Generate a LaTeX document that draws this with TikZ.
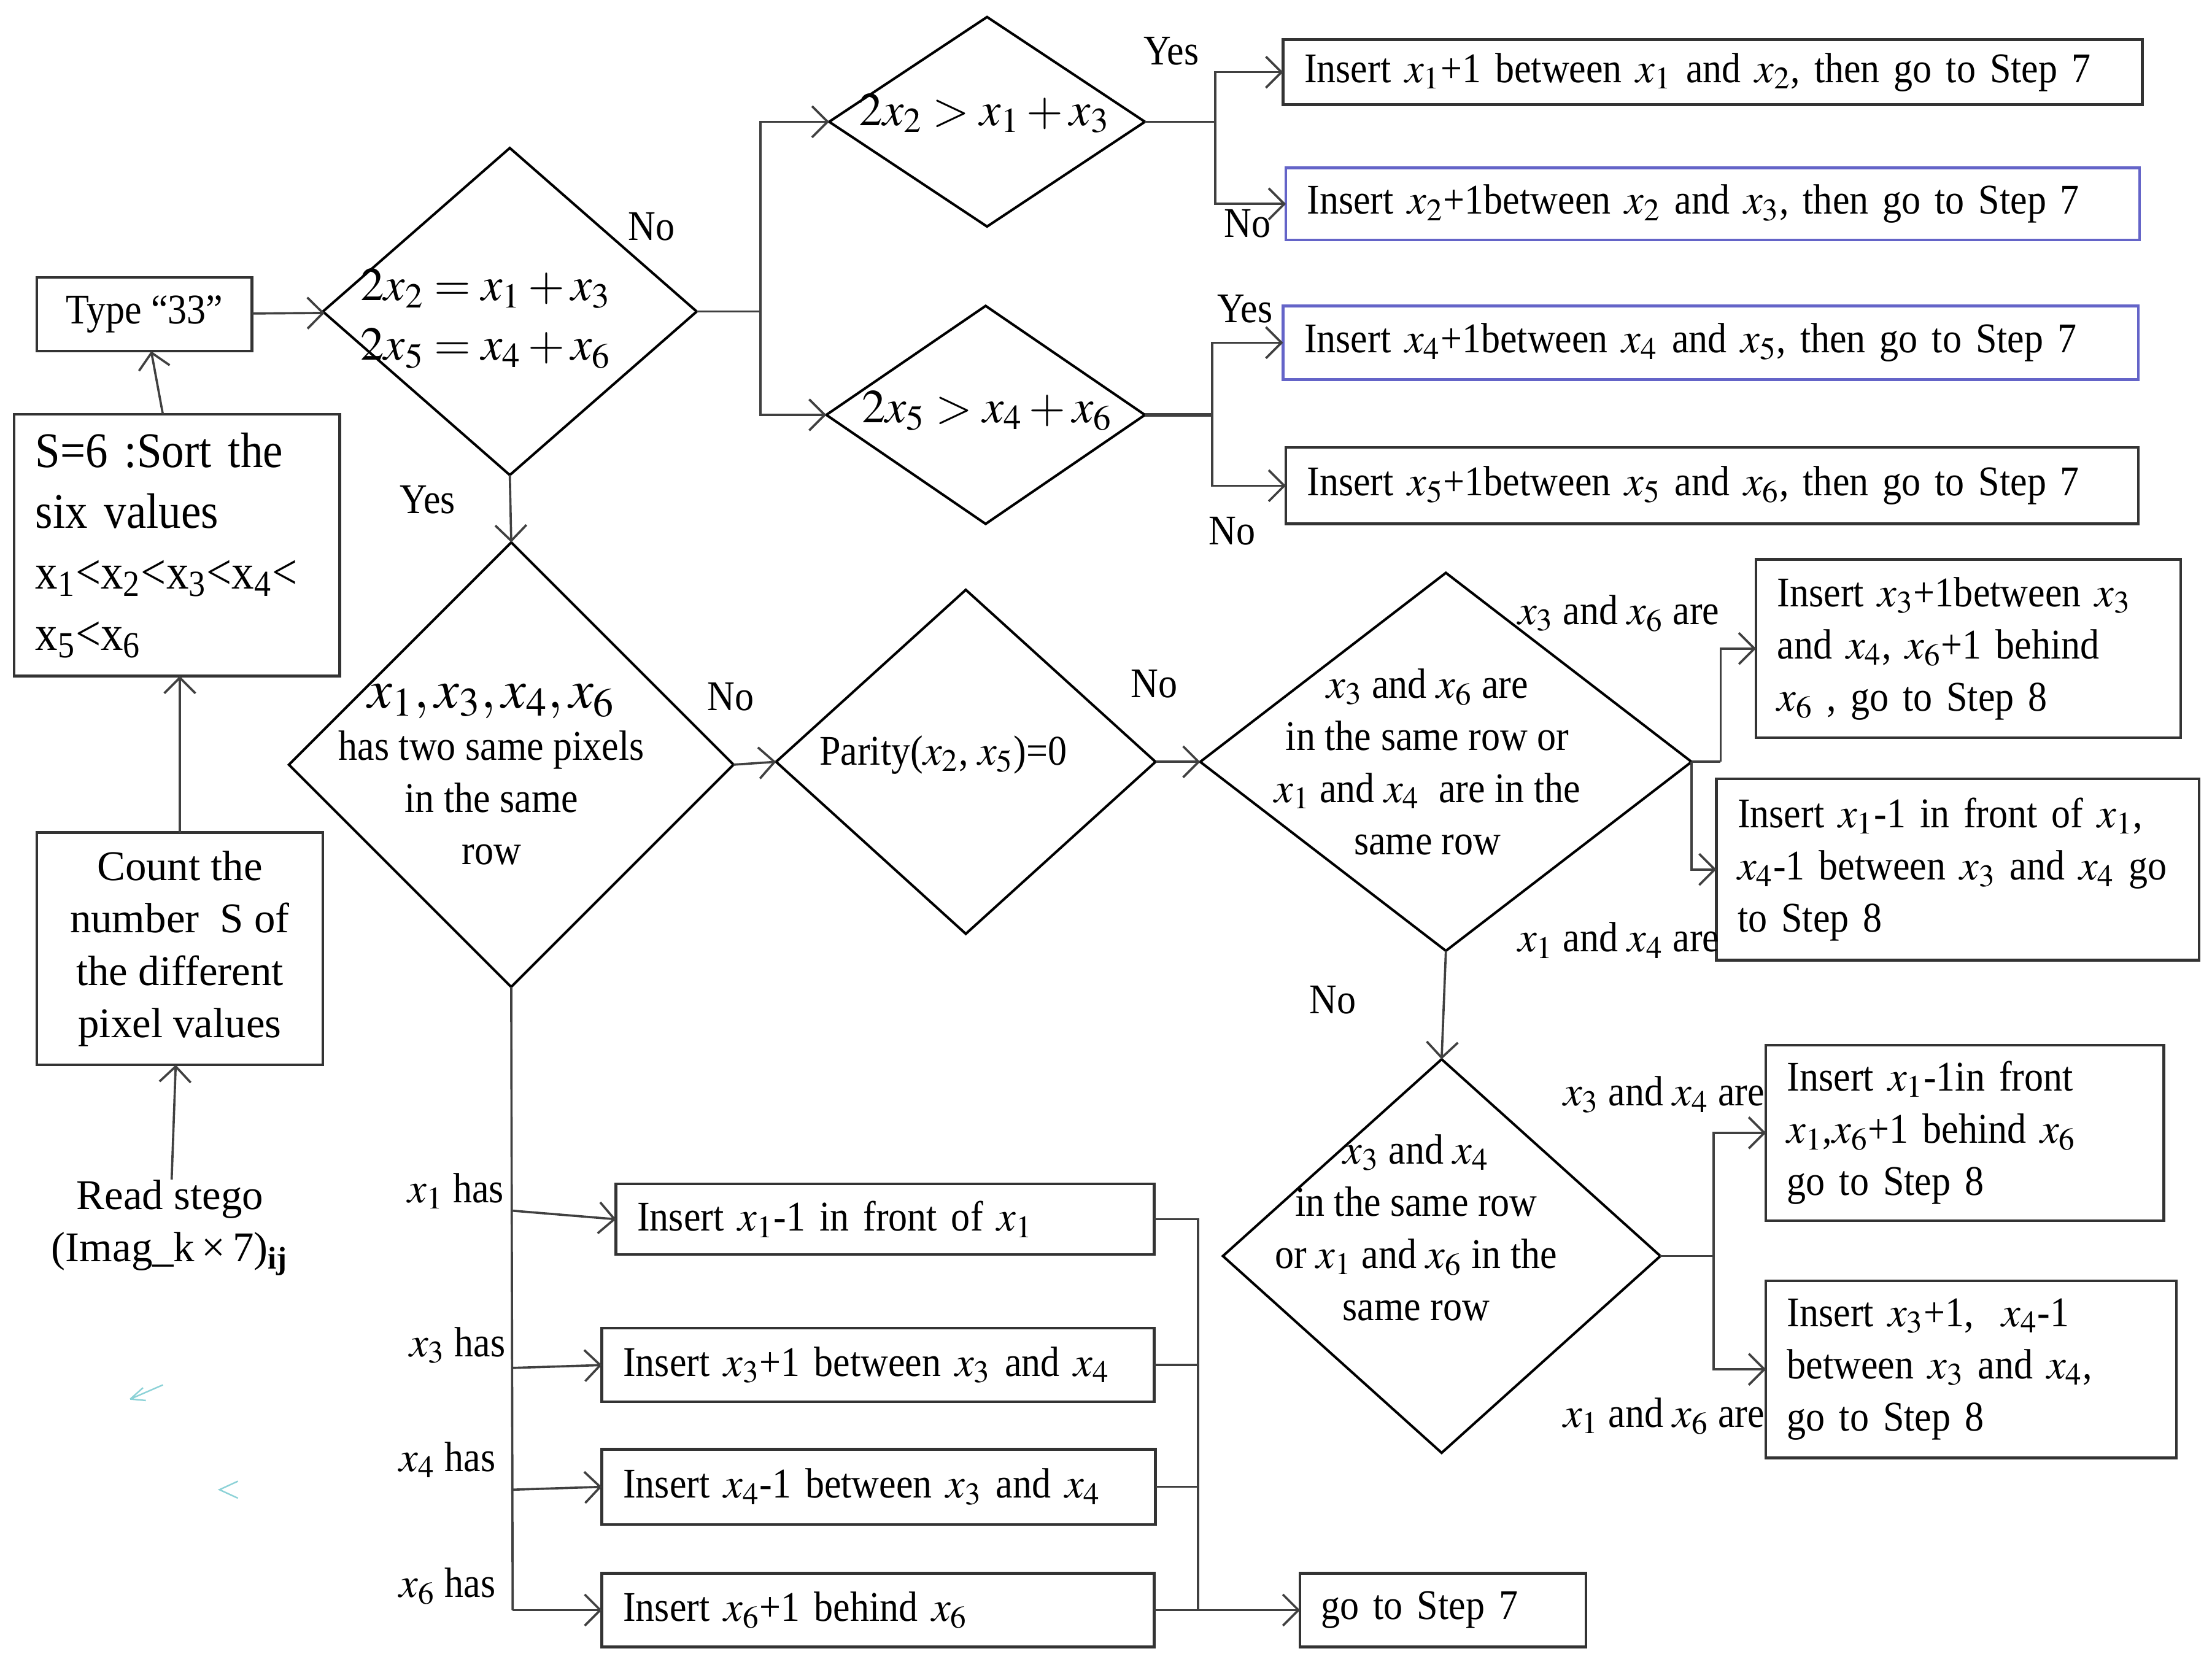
\documentclass[tikz,border=0pt]{standalone}
\usepackage{mathptmx}
\usepackage{fontspec}
\setmainfont{Liberation Serif}[FakeStretch=0.9]
\newfontfamily\wideserif{Liberation Serif}
\usetikzlibrary{shapes.geometric,arrows.meta}
\definecolor{boxblue}{RGB}{100,100,200}
\definecolor{strayc}{RGB}{140,210,215}

\tikzset{
  every node/.style={font=\fontsize{17}{21}\selectfont},
  box/.style={draw=black!80, line width=1.1pt, rectangle, inner xsep=0.3cm, inner ysep=0pt, outer sep=0pt, align=left, anchor=west},
  cbox/.style={draw=black!80, line width=1.1pt, rectangle, inner sep=0pt, outer sep=0pt, align=center},
  dia/.style={draw, diamond, line width=1pt, inner sep=0pt, outer sep=0pt},
  dtext/.style={align=center, inner sep=0pt},
  lbl/.style={inner sep=0pt},
  line/.style={draw=black!75, line width=0.9pt},
  arr/.style={line, -{Straight Barb[length=2.2mm,width=4.4mm]}},
}

\begin{document}
\begin{tikzpicture}[x=0.02cm, y=-0.02cm]
\useasboundingbox (0,0) rectangle (1562,1168);

% left column
\node[cbox, minimum width=3.04cm, minimum height=1.04cm] (type) at (102,222) {Type “33”};
\node[box, text width=4.0cm, minimum height=3.7cm, font=\fontsize{20}{24.5}\selectfont] (sort) at (10,385)
  {S=6 :Sort the\\six values\\x\textsubscript{1}<x\textsubscript{2}<x\textsubscript{3}<x\textsubscript{4}<\\x\textsubscript{5}<x\textsubscript{6}};
\node[cbox, minimum width=4.04cm, minimum height=3.28cm, font=\wideserif\fontsize{17}{21}\selectfont] (count) at (127,670)
  {Count the\\number\ \ S of\\the different\\pixel values};
\node[dtext, font=\wideserif\fontsize{17}{21}\selectfont] (read) at (120,867) {Read stego\\(Imag\_k\,×\,7)\textsubscript{\textbf{ij}}};

% decisions
\node[dia, minimum width=5.28cm, minimum height=4.62cm] (d1) at (360,220) {};
\node[dtext, font=\fontsize{19}{24}\selectfont] (d1t) at (343,225) {$2x_2=x_1+x_3$\\$2x_5=x_4+x_6$};
\node[dia, minimum width=4.46cm, minimum height=2.96cm] (d2) at (697,86) {};
\node[dtext, font=\fontsize{19}{24}\selectfont] (d2t) at (695,80) {$2x_2>x_1+x_3$};
\node[dia, minimum width=4.5cm, minimum height=3.08cm] (d3) at (696,293) {};
\node[dtext, font=\fontsize{19}{24}\selectfont] (d3t) at (697,290) {$2x_5>x_4+x_6$};
\node[dia, minimum width=6.28cm, minimum height=6.28cm] (d4) at (361,540) {};
\node[dtext] (d4t) at (347,547) {{\fontsize{22}{24}\selectfont$x_1,x_3,x_4,x_6$}\\has two same pixels\\in the same\\row};
\node[dia, minimum width=5.36cm, minimum height=4.86cm] (d5) at (682,538) {};
\node[dtext] (d5t) at (666,533) {Parity($x_2$, $x_5$)=0};
\node[dia, minimum width=6.94cm, minimum height=5.34cm] (d6) at (1021,538) {};
\node[dtext] (d6t) at (1008,538) {$x_3$ and $x_6$ are\\in the same row or\\$x_1$ and $x_4$\ \ are in the\\same row};
\node[dia, minimum width=6.18cm, minimum height=5.56cm] (d7) at (1018,887) {};
\node[dtext] (d7t) at (1000,867) {$x_3$ and $x_4$\\in the same row\\or $x_1$ and $x_6$ in the\\same row};

% action boxes
\node[box, text width=11.54cm, minimum height=0.92cm] (b1) at (906,51) {Insert $x_1$+1 between $x_1$ and $x_2$, then go to Step 7};
\node[box, draw=boxblue, text width=11.46cm, minimum height=1.02cm] (b2) at (908,144) {Insert $x_2$+1between $x_2$ and $x_3$, then go to Step 7};
\node[box, draw=boxblue, text width=11.48cm, minimum height=1.04cm] (b3) at (906,242) {Insert $x_4$+1between $x_4$ and $x_5$, then go to Step 7};
\node[box, text width=11.44cm, minimum height=1.08cm] (b4) at (908,343) {Insert $x_5$+1between $x_5$ and $x_6$, then go to Step 7};
\node[box, text width=5.4cm, minimum height=2.52cm] (b5) at (1240,458) {Insert $x_3$+1between $x_3$\\and $x_4$, $x_6$+1 behind\\$x_6$ , go to Step 8};
\node[box, text width=6.22cm, minimum height=2.56cm] (b6) at (1212,614) {Insert $x_1$-1 in front of $x_1$,\\$x_4$-1 between $x_3$ and $x_4$ go\\to Step 8};
\node[box, text width=5.02cm, minimum height=2.48cm] (b7) at (1247,800) {Insert $x_1$-1in front\\$x_1$,$x_6$+1 behind $x_6$\\go to Step 8};
\node[box, text width=5.2cm, minimum height=2.5cm] (b8) at (1247,967) {Insert $x_3$+1,\ \ $x_4$-1\\between $x_3$ and $x_4$,\\go to Step 8};
\node[box, text width=7cm, minimum height=1cm] (b9) at (435,861) {Insert $x_1$-1 in front of $x_1$};
\node[box, text width=7.2cm, minimum height=1.04cm] (b10) at (425,964) {Insert $x_3$+1 between $x_3$ and $x_4$};
\node[box, text width=7.22cm, minimum height=1.06cm] (b11) at (425,1050) {Insert $x_4$-1 between $x_3$ and $x_4$};
\node[box, text width=7.2cm, minimum height=1.04cm] (b12) at (425,1137) {Insert $x_6$+1 behind $x_6$};
\node[box, text width=3.44cm, minimum height=1.04cm] (go) at (918,1137) {go to Step 7};

% branch points
\coordinate (j1) at (537,220);
\coordinate (j2) at (858,86);
\coordinate (j3) at (856,293);
\coordinate (j4) at (1215,538);
\coordinate (j5) at (1210,887);
\coordinate (j6) at (362,1137);
\coordinate (c1) at (362,855);
\coordinate (c2) at (362,966);
\coordinate (c3) at (362,1052);
\coordinate (r) at (846,1137);

% connectors
\draw[arr] (read) -- (count);
\draw[arr] (count) -- (sort.south -| count);
\draw[arr] (sort.north -| 115,0) -- (type);
\draw[arr] (type) -- (d1);
\draw[line] (d1.east) -- (j1);
\draw[arr] (j1) |- (d2.west);
\draw[arr] (j1) |- (d3.west);
\draw[line] (d2.east) -- (j2);
\draw[arr] (j2) |- (b1.west);
\draw[arr] (j2) |- (b2.west);
\draw[line, line width=1.6pt] (d3.east) -- (j3);
\draw[arr] (j3) |- (b3.west);
\draw[arr] (j3) |- (b4.west);
\draw[arr] (d1.south) -- (d4.north);
\draw[arr] (d4.east) -- (d5.west);
\draw[arr] (d5.east) -- (d6.west);
\draw[line] (d6.east) -- (j4);
\draw[arr] (j4) |- (b5.west);
\draw[arr] (d6.east) |- (b6.west);
\draw[arr] (d6.south) -- (d7.north);
\draw[line] (d7.east) -- (j5);
\draw[arr] (j5) |- (b7.west);
\draw[arr] (j5) |- (b8.west);
\draw[line] (d4.south) -- (j6);
\draw[arr] (c1) -- (b9.west);
\draw[arr] (c2) -- (b10.west);
\draw[arr] (c3) -- (b11.west);
\draw[arr] (j6) -- (b12.west);
\draw[line] (b9.east) -| (r);
\draw[line] (b10.east) -- (b10.east -| r);
\draw[line] (b11.east) -- (b11.east -| r);
\draw[arr] (b12) -- (go);

% branch labels
\node[lbl] (no1) at (460,160) {No};
\node[lbl] (yes1) at (302,353) {Yes};
\node[lbl] (yes2) at (827,36) {Yes};
\node[lbl] (no2) at (881,158) {No};
\node[lbl] (yes3) at (879,218) {Yes};
\node[lbl] (no3) at (870,375) {No};
\node[lbl] (no4) at (516,492) {No};
\node[lbl] (no5) at (815,483) {No};
\node[lbl] (no6) at (941,706) {No};
\node[lbl] (l36) at (1143,433) {$x_3$ and $x_6$ are};
\node[lbl] (l14) at (1143,664) {$x_1$ and $x_4$ are};
\node[lbl] (l34) at (1175,773) {$x_3$ and $x_4$ are};
\node[lbl] (l16) at (1175,1000) {$x_1$ and $x_6$ are};
\node[lbl] (h1) at (322,841) {$x_1$ has};
\node[lbl] (h3) at (323,950) {$x_3$ has};
\node[lbl] (h4) at (316,1031) {$x_4$ has};
\node[lbl] (h6) at (316,1120) {$x_6$ has};

% stray marks
\draw[strayc, line width=0.6pt] (115,978) -- (92,988) (92,988) -- (101,980) (92,988) -- (103,989);
\draw[strayc, line width=0.6pt] (168,1046) -- (155,1052) -- (168,1058);
\end{tikzpicture}
\end{document}
